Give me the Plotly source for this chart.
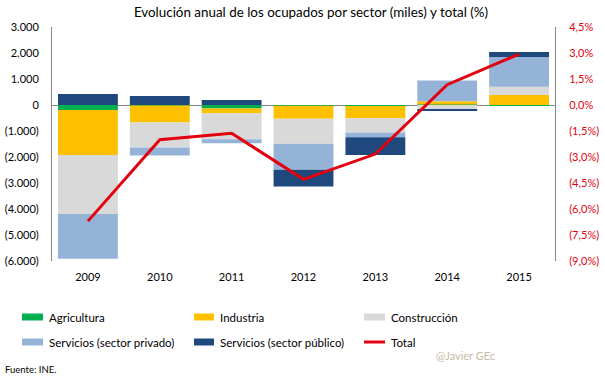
import plotly.graph_objects as go

years = ["2009", "2010", "2011", "2012", "2013", "2014", "2015"]
agricultura = [-190, -20, -130, -30, -40, 20, -20]
industria = [-1730, -650, -190, -500, -470, 125, 385]
construccion = [-2270, -960, -1000, -960, -550, -190, 320]
serv_privado = [-1720, -310, -150, -1000, -180, 800, 1140]
serv_publico = [420, 350, 190, -640, -680, -30, 190]
total_pct = [-6.7, -2.0, -1.63, -4.29, -2.83, 1.17, 2.94]

left_vals = [3000, 2000, 1000, 0, -1000, -2000, -3000, -4000, -5000, -6000]
left_text = ["3.000", "2.000", "1.000", "0", "(1.000)", "(2.000)", "(3.000)", "(4.000)", "(5.000)", "(6.000)"]
right_vals = [4.5, 3.0, 1.5, 0.0, -1.5, -3.0, -4.5, -6.0, -7.5, -9.0]
right_text = ["4,5%", "3,0%", "1,5%", "0,0%", "(1,5%)", "(3,0%)", "(4,5%)", "(6,0%)", "(7,5%)", "(9,0%)"]

series = [
    ("Agricultura", agricultura, "#00B050"),
    ("Industria", industria, "#FFC000"),
    ("Construcción", construccion, "#D9D9D9"),
    ("Servicios (sector privado)", serv_privado, "#95B3D7"),
    ("Servicios (sector público)", serv_publico, "#1F497D"),
]
RED = "#E3000F"
FONT = "Lato"

# plot area in pixels
L, R, T, B = 52, 555, 27, 261
def px(x):
    return (x - L) / (R - L)
def py(y):
    return (B - y) / (B - T)

fig = go.Figure()
for name, vals, col in series:
    fig.add_trace(go.Bar(x=years, y=vals, name=name, marker=dict(color=col, line=dict(width=0))))
fig.add_trace(go.Scatter(x=years, y=total_pct, name="Total", mode="lines",
                         line=dict(color=RED, width=3), yaxis="y2"))

# manual legend (layout only)
legend_items = [(n, c) for n, _, c in series] + [("Total", RED)]
col_x = [(22, 43, 47), (194, 214, 218), (364, 385, 389)]
row_y = [317, 342]
shapes, annotations = [], []
for i, (name, col) in enumerate(legend_items):
    r, c = divmod(i, 3)
    x0, x1, xt = col_x[c]
    yc = row_y[r]
    h = 1.5 if name == "Total" else 3.5
    shapes.append(dict(type="rect", xref="paper", yref="paper",
                       x0=px(x0), x1=px(x1), y0=py(yc + h), y1=py(yc - h),
                       fillcolor=col, line=dict(width=0)))
    annotations.append(dict(text=name, xref="paper", yref="paper", x=px(xt), y=py(yc),
                            xanchor="left", yanchor="middle", showarrow=False,
                            font=dict(size=11.5, color="#000000")))

annotations += [
    dict(text="Fuente: INE.", xref="paper", yref="paper", x=px(3), y=py(369),
         xanchor="left", yanchor="middle", showarrow=False, font=dict(size=9.5)),
    dict(text="@Javier GEc", xref="paper", yref="paper", x=px(497), y=py(355),
         xanchor="right", yanchor="middle", showarrow=False,
         font=dict(size=11, color="#C4BCA8")),
]

fig.update_layout(
    width=605, height=378,
    margin=dict(l=L, r=605 - R, t=T, b=378 - B, autoexpand=False),
    paper_bgcolor="white", plot_bgcolor="white",
    barmode="relative", bargap=0.167,
    showlegend=False,
    font=dict(family=FONT, size=11, color="#000000"),
    title=dict(text="Evolución anual de los ocupados por sector (miles) y total (%)",
               x=311 / 605, xanchor="center", y=1 - 12.5 / 378, yanchor="middle",
               font=dict(family=FONT, size=13.4, color="#000000")),
    xaxis=dict(showline=False, ticks="", showgrid=False, tickfont=dict(size=11),
               automargin=False, ticklabelstandoff=8),
    yaxis=dict(range=[-6000, 3000], tickvals=left_vals, ticktext=left_text,
               showgrid=False, showline=True, linecolor="#868686", linewidth=1,
               zeroline=True, zerolinecolor="#868686", zerolinewidth=1,
               ticks="", automargin=False, ticklabelstandoff=10,
               tickfont=dict(size=11, color="#000000")),
    yaxis2=dict(range=[-9, 4.5], tickvals=right_vals, ticktext=right_text,
                overlaying="y", side="right", showgrid=False, zeroline=False,
                showline=True, linecolor="#868686", linewidth=1,
                ticks="", automargin=False, ticklabelstandoff=11,
                tickfont=dict(size=11, color=RED)),
    shapes=shapes,
    annotations=annotations,
)
fig.write_html("out.html", config={"displayModeBar": False},
               post_script="document.body.style.margin='0';document.body.style.overflow='hidden';")
